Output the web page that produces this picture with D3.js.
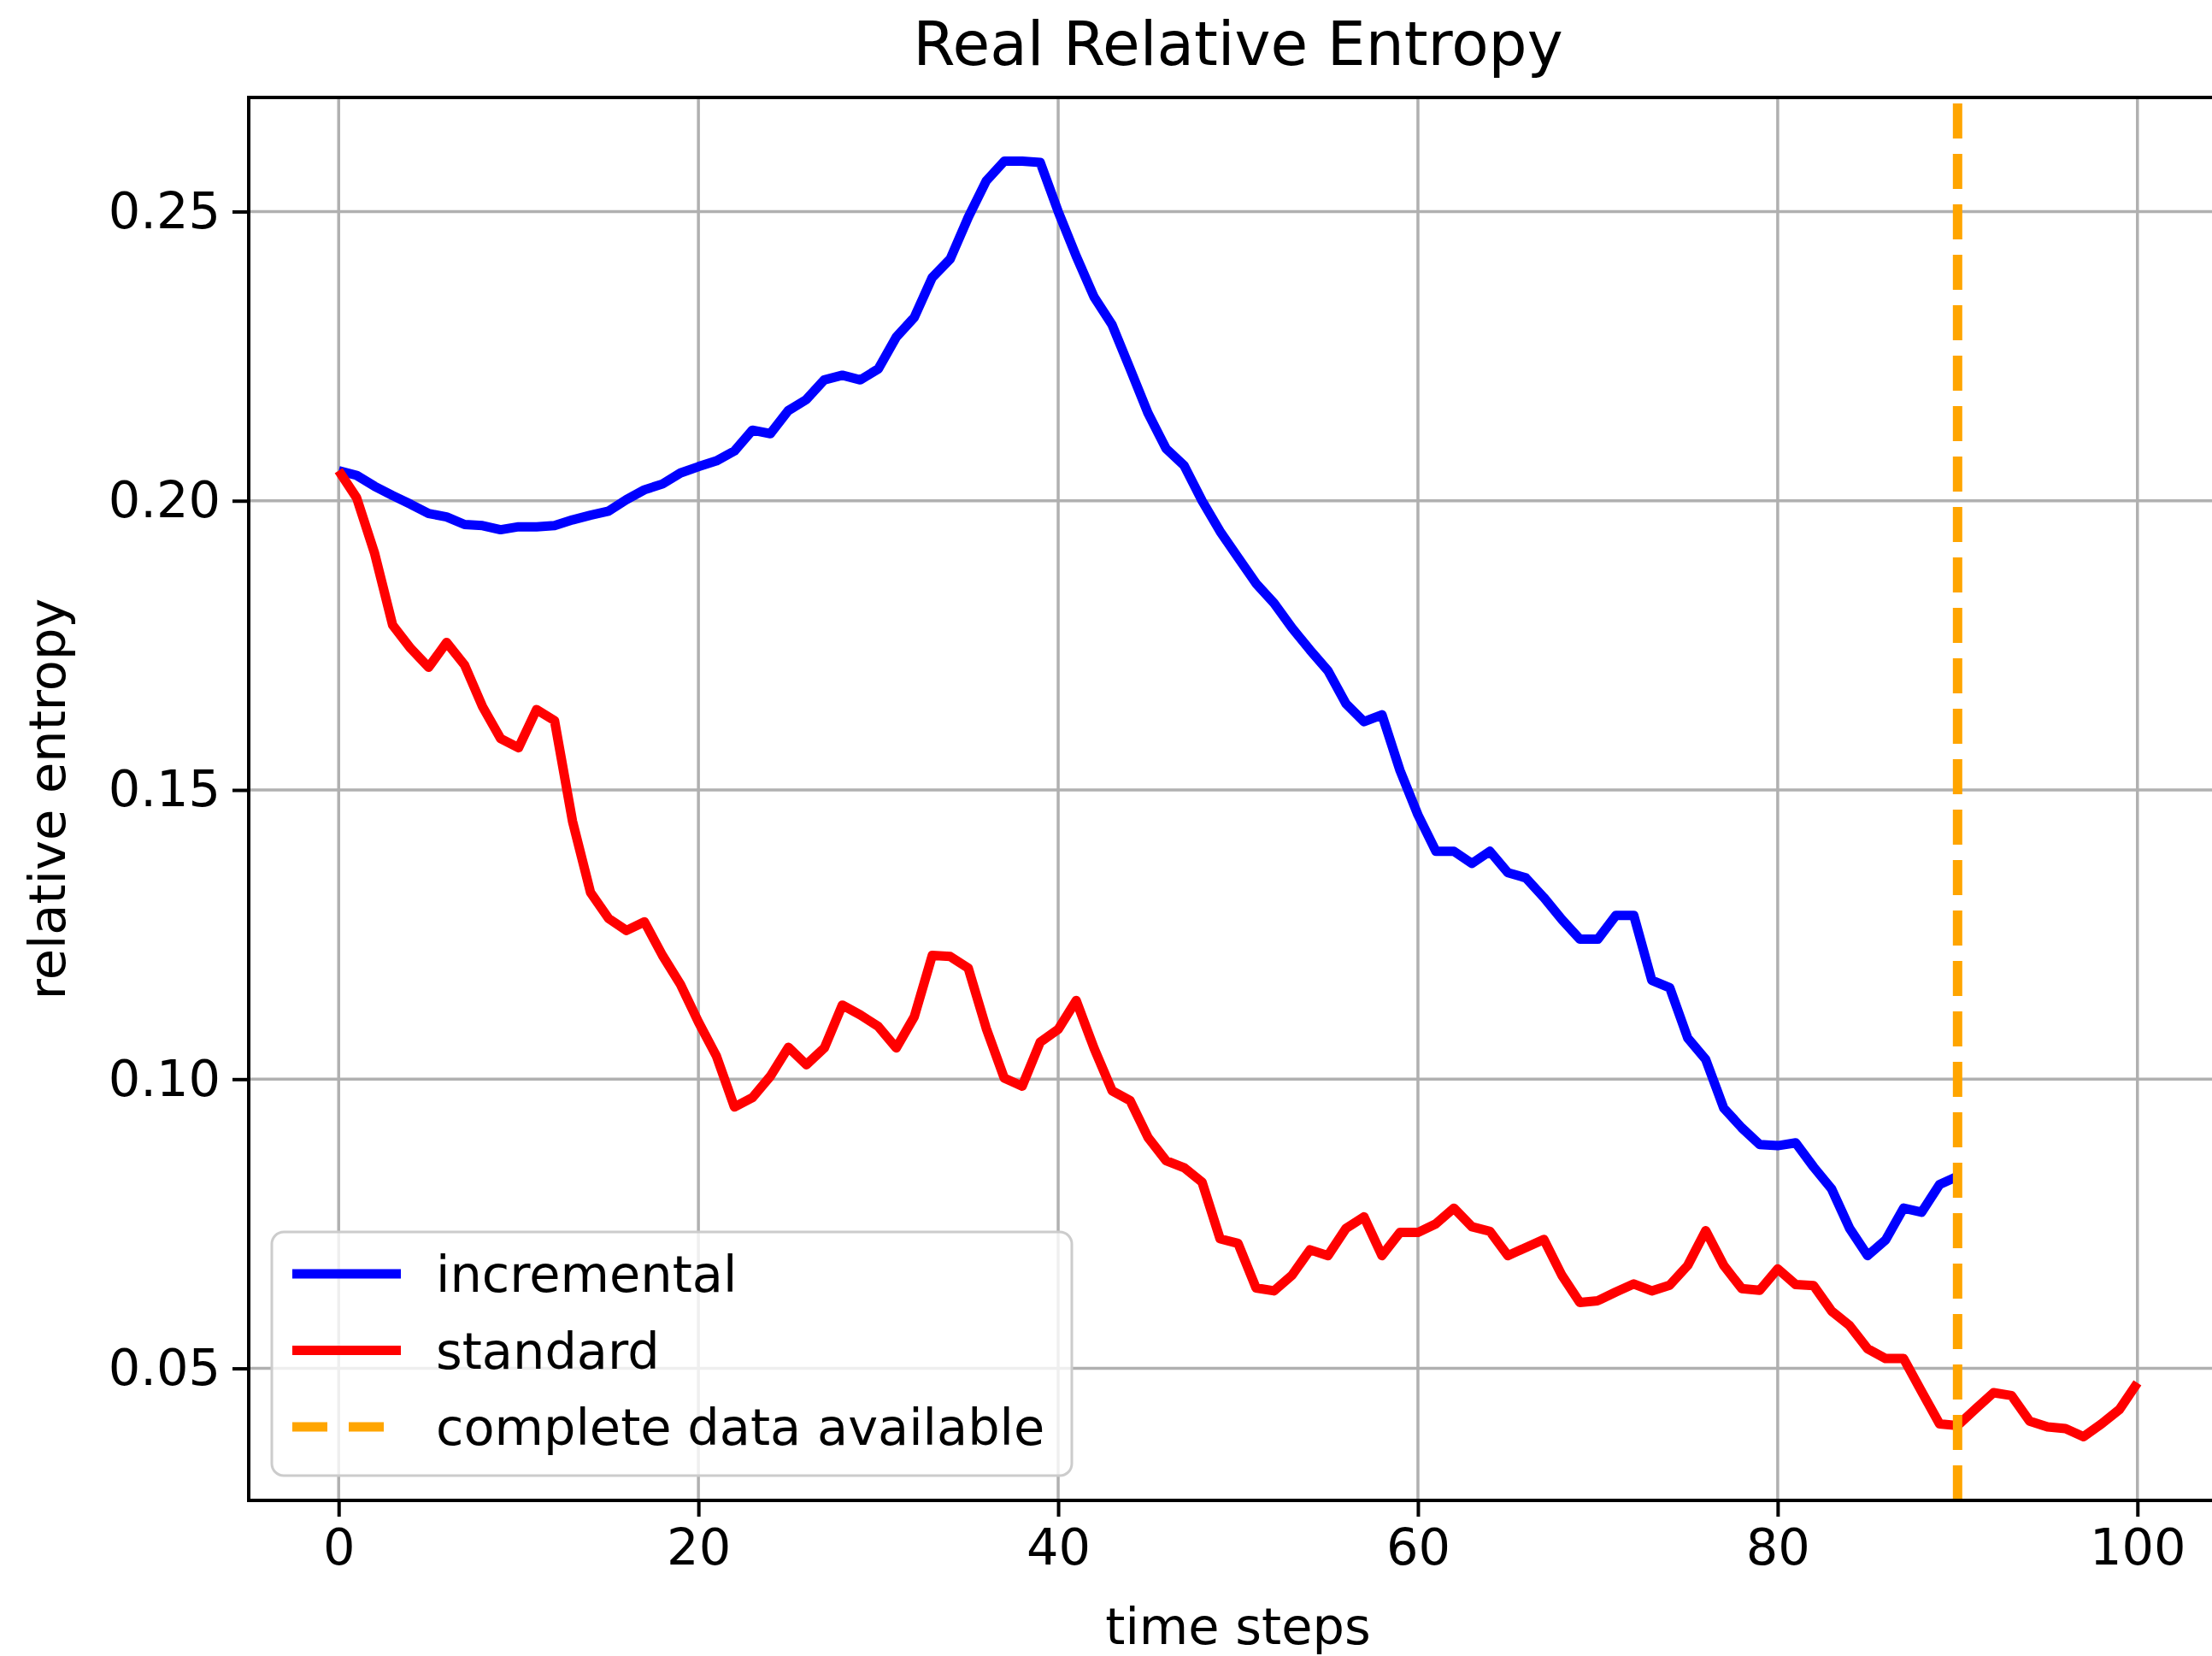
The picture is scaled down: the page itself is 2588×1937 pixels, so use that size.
<!DOCTYPE html>
<html>
<head>
<meta charset="utf-8">
<script src="https://cdn.jsdelivr.net/npm/d3@7"></script>
<style>
  body { margin: 0; background: #ffffff; }
  svg { display: block; }
</style>
</head>
<body>
<div id="vis"></div>
<script>
// valores -------------------------------------------------------------------------------
const INCREMENTAL = [
    0.2052, 0.2044, 0.2025, 0.2009, 0.1994, 0.1978, 0.1972, 0.1959, 0.1957, 0.1950,
    0.1955, 0.1955, 0.1957, 0.1967, 0.1975, 0.1982, 0.2002, 0.2019, 0.2029, 0.2048,
    0.2059, 0.2069, 0.2086, 0.2122, 0.2116, 0.2156, 0.2175, 0.2209, 0.2217, 0.2209,
    0.2228, 0.2283, 0.2317, 0.2386, 0.2418, 0.2490, 0.2553, 0.2587, 0.2587, 0.2585,
    0.2500, 0.2423, 0.2352, 0.2304, 0.2228, 0.2151, 0.2090, 0.2061, 0.2000, 0.1947,
    0.1902, 0.1857, 0.1823, 0.1780, 0.1742, 0.1706, 0.1649, 0.1618, 0.1630, 0.1534,
    0.1457, 0.1394, 0.1394, 0.1373, 0.1394, 0.1357, 0.1348, 0.1314, 0.1276, 0.1242,
    0.1242, 0.1283, 0.1283, 0.1171, 0.1158, 0.1071, 0.1034, 0.0950, 0.0916, 0.0887,
    0.0885, 0.0890, 0.0848, 0.0810, 0.0742, 0.0695, 0.0722, 0.0777, 0.0770, 0.0818,
    0.0832
];

const STANDARD = [
    0.2052, 0.2005, 0.1909, 0.1785, 0.1745, 0.1712, 0.1755, 0.1716, 0.1644, 0.1589,
    0.1573, 0.1639, 0.1620, 0.1446, 0.1323, 0.1278, 0.1257, 0.1272, 0.1214, 0.1164,
    0.1099, 0.1040, 0.0952, 0.0968, 0.1005, 0.1055, 0.1025, 0.1054, 0.1128, 0.1111,
    0.1091, 0.1054, 0.1108, 0.1214, 0.1212, 0.1192, 0.1088, 0.1002, 0.0988, 0.1064,
    0.1086, 0.1136, 0.1053, 0.0980, 0.0963, 0.0899, 0.0859, 0.0847, 0.0822, 0.0724,
    0.0716, 0.0639, 0.0634, 0.0661, 0.0705, 0.0695, 0.0742, 0.0762, 0.0695, 0.0735,
    0.0735, 0.0750, 0.0777, 0.0745, 0.0737, 0.0695, 0.0709, 0.0723, 0.0661, 0.0614,
    0.0617, 0.0632, 0.0646, 0.0634, 0.0644, 0.0678, 0.0738, 0.0678, 0.0638, 0.0635,
    0.0672, 0.0645, 0.0643, 0.0599, 0.0574, 0.0534, 0.0517, 0.0517, 0.0460, 0.0404,
    0.0401, 0.0430, 0.0458, 0.0453, 0.0409, 0.0399, 0.0396, 0.0382, 0.0404, 0.0429,
    0.0475
];

const COMPLETE_STEP = 90;
const X_TICKS = [0, 20, 40, 60, 80, 100];
const Y_TICKS = [0.05, 0.10, 0.15, 0.20, 0.25];
const SERIES_NAMES = ["incremental", "standard", "complete data available"];
const SERIES_COLORS = ["#0000ff", "#ff0000", "#ffa500"];

// tamaño y margenes ---------------------------------------------------------------------
const WIDTH = 2588;
const HEIGHT = 1937;
const LEFT = 291, RIGHT = 2606, TOP = 114, BOTTOM = 1755;
const FONT = "'DejaVu Sans', sans-serif";

const SVG = d3.select("#vis").append("svg")
    .attr("width", WIDTH)
    .attr("height", HEIGHT);

SVG.append("rect").attr("width", WIDTH).attr("height", HEIGHT).attr("fill", "#ffffff");

// escalas con 5% de margen como matplotlib
const xMax = STANDARD.length - 1;
const escalaX = d3.scaleLinear()
    .domain([-0.05 * xMax, xMax * 1.05])
    .range([LEFT, RIGHT]);

const todos = INCREMENTAL.concat(STANDARD);
const [yMin, yMax] = d3.extent(todos);
const yPad = (yMax - yMin) * 0.05;
const escalaY = d3.scaleLinear()
    .domain([yMin - yPad, yMax + yPad])
    .range([BOTTOM, TOP]);

SVG.append("clipPath").attr("id", "area")
    .append("rect")
    .attr("x", LEFT).attr("y", TOP)
    .attr("width", RIGHT - LEFT).attr("height", BOTTOM - TOP);

// grilla
const grilla = SVG.append("g").attr("stroke", "#b0b0b0").attr("stroke-width", 3.5);
grilla.selectAll(".gx").data(X_TICKS).enter().append("line")
    .attr("x1", d => escalaX(d)).attr("x2", d => escalaX(d))
    .attr("y1", TOP).attr("y2", BOTTOM);
grilla.selectAll(".gy").data(Y_TICKS).enter().append("line")
    .attr("x1", LEFT).attr("x2", RIGHT)
    .attr("y1", d => escalaY(d)).attr("y2", d => escalaY(d));

// lineas
const linea = d3.line()
    .x((d, i) => escalaX(i))
    .y(d => escalaY(d));

const curvas = SVG.append("g").attr("clip-path", "url(#area)");

curvas.append("path")
    .datum(INCREMENTAL)
    .attr("d", linea)
    .attr("fill", "none")
    .attr("stroke", SERIES_COLORS[0])
    .attr("stroke-width", 11)
    .attr("stroke-linejoin", "round")
    .attr("stroke-linecap", "butt");

curvas.append("path")
    .datum(STANDARD)
    .attr("d", linea)
    .attr("fill", "none")
    .attr("stroke", SERIES_COLORS[1])
    .attr("stroke-width", 11)
    .attr("stroke-linejoin", "round")
    .attr("stroke-linecap", "butt");

curvas.append("line")
    .attr("x1", escalaX(COMPLETE_STEP)).attr("x2", escalaX(COMPLETE_STEP))
    .attr("y1", BOTTOM).attr("y2", TOP)
    .attr("stroke", SERIES_COLORS[2])
    .attr("stroke-width", 11)
    .attr("stroke-dasharray", "41,18");

// ejes
const ejeX = d3.axisBottom(escalaX).tickValues(X_TICKS).tickSize(19).tickPadding(14).tickFormat(d3.format("d"));
const ejeY = d3.axisLeft(escalaY).tickValues(Y_TICKS).tickSize(19).tickPadding(14).tickFormat(d3.format(".2f"));

const gx = SVG.append("g").attr("transform", `translate(0,${BOTTOM})`).call(ejeX);
const gy = SVG.append("g").attr("transform", `translate(${LEFT},0)`).call(ejeY);

[gx, gy].forEach(g => {
    g.select(".domain").remove();
    g.selectAll(".tick line").attr("stroke", "#000").attr("stroke-width", 4);
    g.selectAll(".tick text")
        .attr("font-family", FONT)
        .attr("font-size", "59px")
        .attr("fill", "#000");
});

// marco
SVG.append("rect")
    .attr("x", LEFT).attr("y", TOP)
    .attr("width", RIGHT - LEFT).attr("height", BOTTOM - TOP)
    .attr("fill", "none")
    .attr("stroke", "#000")
    .attr("stroke-width", 4);

// titulos
SVG.append("text")
    .attr("x", (LEFT + RIGHT) / 2)
    .attr("y", 76)
    .attr("text-anchor", "middle")
    .attr("font-family", FONT)
    .attr("font-size", "71px")
    .text("Real Relative Entropy");

SVG.append("text")
    .attr("x", (LEFT + RIGHT) / 2)
    .attr("y", 1923)
    .attr("text-anchor", "middle")
    .attr("font-family", FONT)
    .attr("font-size", "59px")
    .text("time steps");

SVG.append("text")
    .attr("transform", `translate(76,${(TOP + BOTTOM) / 2}) rotate(-90)`)
    .attr("text-anchor", "middle")
    .attr("font-family", FONT)
    .attr("font-size", "59px")
    .text("relative entropy");

// leyenda -------------------------------------------------------------------------------
const leyenda = SVG.append("g").attr("transform", "translate(318,1441)");

leyenda.append("rect")
    .attr("width", 936).attr("height", 285)
    .attr("rx", 14).attr("ry", 14)
    .attr("fill", "#ffffff").attr("fill-opacity", 0.8)
    .attr("stroke", "#cccccc").attr("stroke-width", 3);

leyenda.selectAll(".item")
    .data(SERIES_NAMES)
    .enter()
    .append("line")
    .attr("x1", 24).attr("x2", 151)
    .attr("y1", (d, i) => 49 + 89.5 * i)
    .attr("y2", (d, i) => 49 + 89.5 * i)
    .attr("stroke", (d, i) => SERIES_COLORS[i])
    .attr("stroke-width", 11)
    .attr("stroke-dasharray", (d, i) => i === 2 ? "41,25" : null);

leyenda.selectAll("text")
    .data(SERIES_NAMES)
    .enter()
    .append("text")
    .attr("x", 192)
    .attr("y", (d, i) => 70 + 89.5 * i)
    .attr("font-family", FONT)
    .attr("font-size", "59px")
    .attr("fill", "#000")
    .text(d => d);
</script>
</body>
</html>
